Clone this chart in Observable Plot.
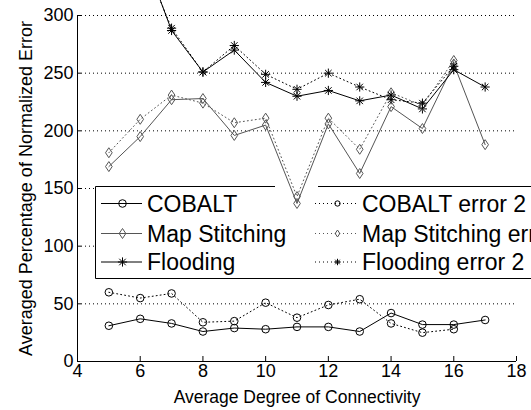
<!DOCTYPE html>
<html><head><meta charset="utf-8">
<script src="https://cdn.jsdelivr.net/npm/d3@7"></script>
<script src="https://cdn.jsdelivr.net/npm/@observablehq/plot@0.6"></script>
<style>html,body{margin:0;padding:0;overflow:hidden;background:#fff}</style>
</head><body><div id="chart"></div>
<script>
// ---- data ----
const degrees = [5, 6, 7, 8, 9, 10, 11, 12, 13, 14, 15, 16, 17];
const cobalt = [31, 37, 33, 26, 29, 28, 30, 30, 26, 42, 32, 32, 36];
const cobaltErr = [60, 55, 59, 34, 35, 51, 38, 49, 54, 33, 25, 28];
const mapStitch = [169, 195, 227, 228, 196, 205, 137, 206, 163, 221, 202, 258, 188];
const mapStitchErr = [181, 210, 231, 224, 207, 211, 143, 211, 184, 233, 222, 261];
const flooding = [410, 360, 287, 251, 270, 242, 230, 235, 226, 231, 219, 253, 238];
const floodingErr = [405, 355, 289, 251, 274, 249, 236, 250, 238, 227, 224, 256];
const xTicks = [4, 6, 8, 10, 12, 14, 16, 18];
const yTicks = [0, 50, 100, 150, 200, 250, 300];
const legendLeft = ["COBALT", "Map Stitching", "Flooding"];
const legendRight = ["COBALT error 2", "Map Stitching error 2", "Flooding error 2"];
const xLabel = "Average Degree of Connectivity";
const yLabel = "Averaged Percentage of Normalized Error";

// ---- symbols ----
const diamond = {draw(ctx, size) {
  const r = Math.sqrt(size / Math.PI);
  ctx.moveTo(0, -r * 1.35); ctx.lineTo(r * 0.9, 0); ctx.lineTo(0, r * 1.35); ctx.lineTo(-r * 0.9, 0); ctx.closePath();
}};
const star8 = {draw(ctx, size) {
  const r = Math.sqrt(size / Math.PI), s = r * 0.7071;
  ctx.moveTo(-r, 0); ctx.lineTo(r, 0); ctx.moveTo(0, -r); ctx.lineTo(0, r);
  ctx.moveTo(-s, -s); ctx.lineTo(s, s); ctx.moveTo(-s, s); ctx.lineTo(s, -s);
}};
const circle = {draw(ctx, size) {
  const r = Math.sqrt(size / Math.PI);
  ctx.moveTo(r, 0); ctx.arc(0, 0, r, 0, 2 * Math.PI);
}};

const DOT = "1,3";
const series = [
  {values: cobalt, dash: null, color: "#000", symbol: circle, r: 3.8},
  {values: mapStitch, dash: null, color: "#555", symbol: diamond, r: 3.7},
  {values: flooding, dash: null, color: "#000", symbol: star8, r: 4.6},
  {values: cobaltErr, dash: DOT, color: "#000", symbol: circle, r: 3.8},
  {values: mapStitchErr, dash: DOT, color: "#555", symbol: diamond, r: 3.7},
  {values: floodingErr, dash: DOT, color: "#000", symbol: star8, r: 4.6}
];
const toRows = (vals) => vals.map((v, i) => ({x: degrees[i], y: v}));

const W = 531, H = 410, mL = 77, mR = 15, mT = 15, mB = 49;
const plotW = W - mL - mR, plotH = H - mT - mB;
const FONT = "'Liberation Sans', Arial, Helvetica, sans-serif";

function legendMark() {
  const g = d3.create("svg:g").attr("font-family", FONT);
  const top = 186.5, bottom = 278.5, left = 95.5, right = 600;
  g.append("rect").attr("x", left).attr("y", top).attr("width", right - left).attr("height", bottom - top).attr("fill", "white");
  g.append("path").attr("d", `M${left},${top}H275M318,${top}H${right}M${left},${top}V${bottom}H${right}`)
    .attr("stroke", "black").attr("fill", "none").attr("stroke-width", 1);
  const rowsY = [203.5, 233.5, 262];
  const cols = [
    {x1: 101, x2: 142, mx: 122.5, tx: 147, labels: legendLeft, items: series.slice(0, 3), scale: 1},
    {x1: 315, x2: 358, mx: 337.5, tx: 362, labels: legendRight, items: series.slice(3), scale: 0.7}
  ];
  for (const c of cols) {
    c.items.forEach((s, i) => {
      const y = rowsY[i];
      g.append("line").attr("x1", c.x1).attr("x2", c.x2).attr("y1", y).attr("y2", y)
        .attr("stroke", s.color).attr("stroke-width", 1).attr("stroke-dasharray", s.dash);
      const rr = s.r * c.scale;
      g.append("path").attr("transform", `translate(${c.mx},${y})`)
        .attr("d", d3.symbol(s.symbol, rr * rr * Math.PI)())
        .attr("fill", "none").attr("stroke", s.color).attr("stroke-width", 1);
      g.append("text").attr("x", c.tx).attr("y", y + 8.3).attr("font-size", 23)
        .attr("text-anchor", "start").attr("fill", "black").text(c.labels[i]);
    });
  }
  return g.node();
}

const marks = [
  Plot.ruleY(yTicks.filter(v => v > 0), {stroke: "black", strokeDasharray: DOT, strokeWidth: 1}),
  legendMark
];
for (const s of series) {
  marks.push(Plot.line(toRows(s.values), {x: "x", y: "y", stroke: s.color, strokeWidth: 1, strokeDasharray: s.dash}));
}
for (const s of series) {
  marks.push(Plot.dot(toRows(s.values), {x: "x", y: "y", symbol: s.symbol, r: s.r, stroke: s.color, fill: "none", strokeWidth: 1}));
}
marks.push(
  Plot.ruleX([4], {stroke: "black"}),
  Plot.ruleY([0], {stroke: "black"}),
  Plot.ruleX(xTicks, {stroke: "black", insetTop: plotH - 5}),
  Plot.ruleY(yTicks, {stroke: "black", insetRight: plotW - 4}),
  Plot.axisX(xTicks, {tickSize: 0, tickPadding: 3, label: null, fontSize: 18}),
  Plot.axisY(yTicks, {tickSize: 0, tickPadding: 4, label: null, fontSize: 18}),
  Plot.text([xLabel], {text: d => d, frameAnchor: "bottom", dy: 36, lineAnchor: "middle", textAnchor: "middle", fontSize: 17.5, fill: "black"}),
  Plot.text([yLabel], {text: d => d, frameAnchor: "left", dx: -51, rotate: -90, textAnchor: "middle", lineAnchor: "middle", fontSize: 18, fill: "black"})
);

const chart = Plot.plot({
  width: W, height: H,
  marginLeft: mL, marginRight: mR, marginTop: mT, marginBottom: mB,
  x: {domain: [4, 18]},
  y: {domain: [0, 300]},
  style: {fontFamily: FONT, fontSize: "18px", color: "black", background: "white"},
  marks
});
document.getElementById("chart").appendChild(chart);
</script>
</body></html>
